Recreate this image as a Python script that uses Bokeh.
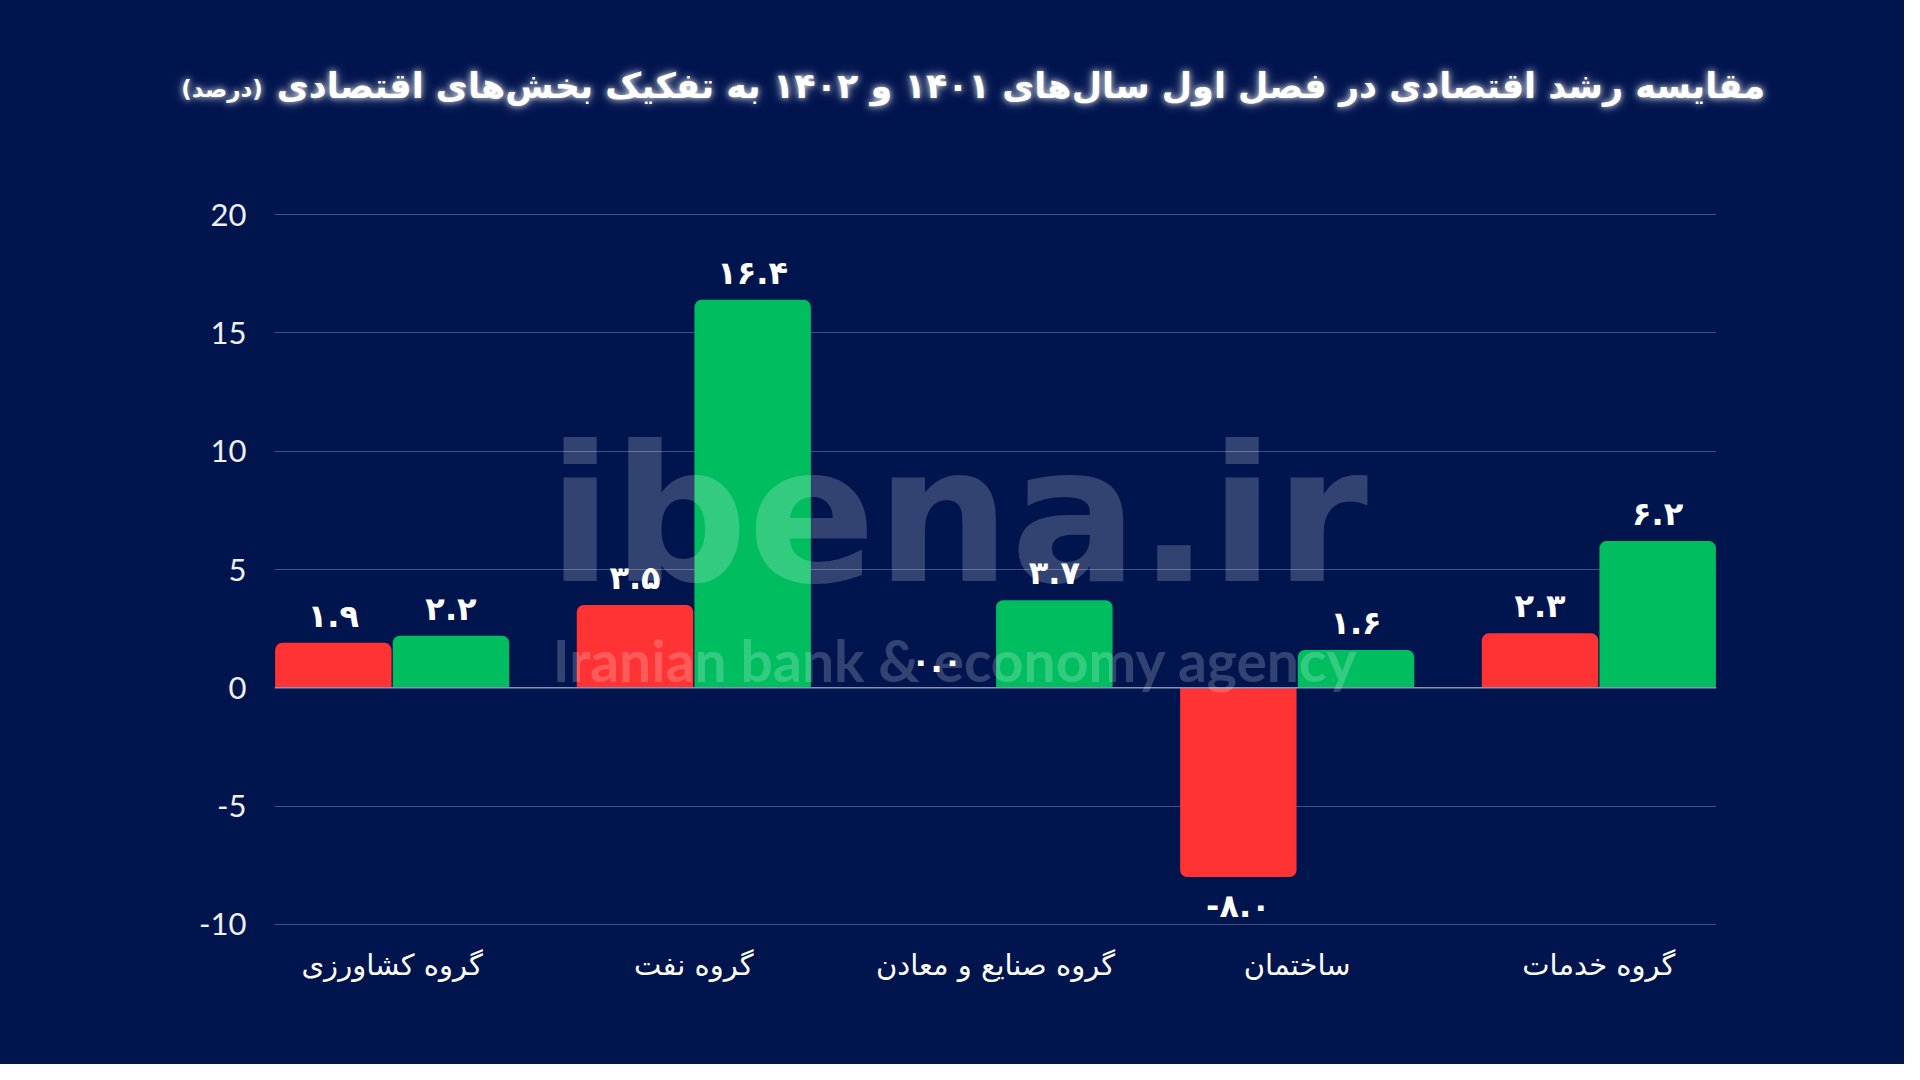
from bokeh.plotting import figure
from bokeh.layouts import column
from bokeh.models import Range1d, FixedTicker, Label, Span, ColumnDataSource, Div
from bokeh.core.properties import value
from bokeh.embed import file_html
from bokeh.resources import INLINE

# ---------------- data ----------------
categories = ["گروه کشاورزی", "گروه نفت", "گروه صنایع و معادن", "ساختمان", "گروه خدمات"]
growth_1401 = [1.9, 3.5, 0.0, -8.0, 2.3]
growth_1402 = [2.2, 16.4, 3.7, 1.6, 6.2]
y_ticks = [-10, -5, 0, 5, 10, 15, 20]
y_tick_labels = ["-10", "-5", "0", "5", "10", "15", "20"]
title_text = "مقایسه رشد اقتصادی در فصل اول سال‌های ۱۴۰۱ و ۱۴۰۲ به تفکیک بخش‌های اقتصادی"
unit_text = "(درصد)"
watermark_big = "ibena.ir"
watermark_small = "Iranian bank & economy agency"

# ---------------- style ----------------
BG = "#00144E"
RED = "#FF3333"
GREEN = "#00BE5F"
GRID = "#414F86"
FA_FONT = "DejaVu Sans"
BAR_W = 0.386
DODGE = 0.195
W = 1904
HEAD_H = 160


def fa_num(v):
    s = f"{v:.1f}"
    return s.translate(str.maketrans("0123456789", "۰۱۲۳۴۵۶۷۸۹"))


# ---------------- header (title) ----------------
glow = "text-shadow:0 0 6px rgba(255,255,255,0.85),0 0 14px rgba(255,255,255,0.4);"
base = ("position:absolute;transform:translate(-50%,-50%);white-space:nowrap;direction:rtl;"
        "font-family:'DejaVu Sans';font-weight:bold;color:#ffffff;line-height:1;")
head_html = (
    f'<div style="position:relative;width:{W}px;height:{HEAD_H}px;background:{BG};">'
    f'<span style="{base}left:1021px;top:86px;font-size:35px;{glow}">{title_text}</span>'
    f'<span style="{base}left:222px;top:89px;font-size:23px;{glow}">{unit_text}</span>'
    '</div>'
)
head = Div(text=head_html, width=W, height=HEAD_H, margin=0,
           styles={"background-color": BG})

# ---------------- chart ----------------
p = figure(width=W, height=1064 - HEAD_H, output_backend="svg", toolbar_location=None,
           x_range=Range1d(-0.39, 4.39), y_range=Range1d(-10.05, 20.05),
           min_border_left=274, min_border_right=188, min_border_top=53, min_border_bottom=139)
p.background_fill_color = BG
p.border_fill_color = BG
p.outline_line_color = None


def bar_sources(vals, offset):
    pos = dict(x=[], top=[], bottom=[], label=[])
    neg = dict(x=[], top=[], bottom=[], label=[])
    for i, v in enumerate(vals):
        d = pos if v >= 0 else neg
        d["x"].append(i + offset)
        d["top"].append(max(v, 0))
        d["bottom"].append(min(v, 0))
        d["label"].append(fa_num(v))
    return ColumnDataSource(pos), ColumnDataSource(neg)


r_pos, r_neg = bar_sources(growth_1401, -DODGE)
g_pos, g_neg = bar_sources(growth_1402, DODGE)

for src, col in ((r_pos, RED), (g_pos, GREEN)):
    p.vbar(x="x", top="top", bottom="bottom", width=BAR_W, source=src, fill_color=col,
           line_color=None, border_radius=(7, 7, 0, 0))
for src, col in ((r_neg, RED), (g_neg, GREEN)):
    p.vbar(x="x", top="top", bottom="bottom", width=BAR_W, source=src, fill_color=col,
           line_color=None, border_radius=(0, 0, 7, 7))

# zero line
p.add_layout(Span(location=0, dimension="width", line_color="#8a93b5", line_width=1.5))

# watermark
p.add_layout(Label(x=1.875, y=7.25, text=watermark_big, text_align="center", text_baseline="alphabetic",
                   text_font=FA_FONT, text_font_style="bold", text_font_size="189px",
                   text_color="#ffffff", text_alpha=0.2))
p.add_layout(Label(x=1.867, y=1.16, text=watermark_small, text_align="center", text_baseline="alphabetic",
                   text_font="Lato", text_font_style="bold", text_font_size="57px",
                   text_color="#ffffff", text_alpha=0.2))

# value labels
for src in (r_pos, g_pos):
    p.text(x="x", y="top", text="label", source=src, text_align="center", text_baseline="bottom",
           y_offset=-8, text_font=value(FA_FONT), text_font_style="bold", text_font_size="32px",
           text_color="#ffffff")
for src in (r_neg, g_neg):
    p.text(x="x", y="bottom", text="label", source=src, text_align="center", text_baseline="top",
           y_offset=10, text_font=value(FA_FONT), text_font_style="bold", text_font_size="32px",
           text_color="#ffffff")

# axes
p.xaxis.ticker = FixedTicker(ticks=list(range(len(categories))))
p.xaxis.major_label_overrides = {i: c for i, c in enumerate(categories)}
p.xaxis.major_label_text_font = FA_FONT
p.xaxis.major_label_text_font_size = "29px"
p.xaxis.major_label_text_color = "#ffffff"
p.xaxis.major_label_standoff = 16
p.xaxis.axis_line_color = None
p.xaxis.major_tick_line_color = None
p.xaxis.minor_tick_line_color = None

p.yaxis.ticker = FixedTicker(ticks=y_ticks)
p.yaxis.major_label_overrides = {t: s for t, s in zip(y_ticks, y_tick_labels)}
p.yaxis.major_label_text_font = "Lato"
p.yaxis.major_label_text_font_size = "31px"
p.yaxis.major_label_text_color = "#eef0f6"
p.yaxis.major_label_standoff = 22
p.yaxis.axis_line_color = None
p.yaxis.major_tick_line_color = None
p.yaxis.minor_tick_line_color = None

p.xgrid.grid_line_color = None
p.ygrid.grid_line_color = GRID
p.ygrid.grid_line_width = 1.2

layout = column(head, p, spacing=0, styles={"background-color": BG})
open("out.html", "w").write(file_html(layout, INLINE))
